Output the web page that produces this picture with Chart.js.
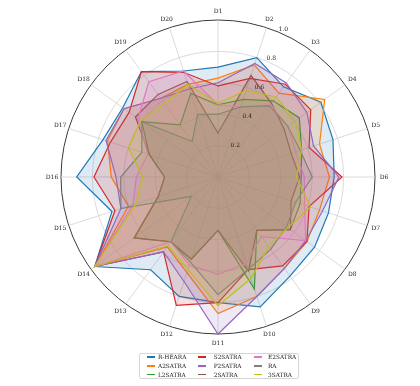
<!DOCTYPE html>
<html>
<head>
<meta charset="utf-8">
<script src="https://cdn.jsdelivr.net/npm/chart.js@4"></script>
<style>
  body { margin: 0; background: #fff; }
  #wrap { position: relative; width: 420px; height: 386px; }
  #legend {
    position: absolute; left: 139px; top: 353px; width: 158px; height: 24px;
    border: 1px solid #d6d6d6; border-radius: 2px; background: rgba(255,255,255,0.85);
    font-family: "DejaVu Serif", serif; font-size: 5.8px; color: #222;
  }
  .item { position: absolute; white-space: nowrap; }
  .swatch { position: absolute; height: 1.3px; width: 8px; }
</style>
</head>
<body>
<div id="wrap">
  <canvas id="radar" width="420" height="386"></canvas>
  <div id="legend"></div>
</div>
<script>
const axes = ['D1','D2','D3','D4','D5','D6','D7','D8','D9','D10',
              'D11','D12','D13','D14','D15','D16','D17','D18','D19','D20'];
const rTicks = [0.2, 0.4, 0.6, 0.8, 1.0];

const seriesNames = ['R-HEARA','A2SATRA','L2SATRA','S2SATRA','P2SATRA','2SATRA','E2SATRA','RA','3SATRA'];
const seriesColors = ['#1f77b4','#ff7f0e','#2ca02c','#d62728','#9467bd','#8c564b','#e377c2','#7f7f7f','#bcbd22'];

const rHeara  = [0.70,0.80,0.71,0.81,0.77,0.74,0.74,0.76,0.78,0.87,0.80,0.80,0.73,0.97,0.71,0.90,0.77,0.75,0.83,0.71];
const a2satra = [0.63,0.75,0.66,0.84,0.68,0.71,0.68,0.70,0.72,0.80,0.87,0.64,0.55,0.97,0.60,0.68,0.74,0.74,0.62,0.62];
const l2satra = [0.46,0.52,0.60,0.64,0.56,0.53,0.55,0.57,0.42,0.75,0.34,0.55,0.51,0.66,0.40,0.34,0.46,0.60,0.41,0.56];
const s2satra = [0.58,0.66,0.73,0.73,0.61,0.79,0.61,0.70,0.70,0.62,0.80,0.86,0.59,0.97,0.69,0.79,0.72,0.70,0.83,0.70];
const p2satra = [0.60,0.76,0.74,0.70,0.64,0.77,0.70,0.69,0.72,0.80,1.00,0.70,0.59,0.97,0.65,0.65,0.75,0.74,0.62,0.59];
const satra2  = [0.28,0.68,0.58,0.52,0.49,0.52,0.49,0.57,0.42,0.63,0.34,0.55,0.51,0.66,0.40,0.34,0.46,0.65,0.65,0.64];
const e2satra = [0.46,0.47,0.57,0.55,0.52,0.55,0.58,0.69,0.47,0.58,0.62,0.59,0.51,0.97,0.57,0.52,0.47,0.63,0.75,0.71];
const ra      = [0.40,0.47,0.56,0.55,0.55,0.60,0.52,0.54,0.57,0.62,0.75,0.57,0.51,0.21,0.65,0.62,0.51,0.60,0.28,0.42];
const satra3  = [0.47,0.58,0.63,0.61,0.56,0.50,0.62,0.55,0.55,0.68,0.82,0.62,0.54,0.97,0.55,0.48,0.60,0.61,0.58,0.62];

const seriesValues = [rHeara, a2satra, l2satra, s2satra, p2satra, satra2, e2satra, ra, satra3];

const FONT = '"DejaVu Serif", serif';

function hexToRgba(hex, a) {
    const n = parseInt(hex.slice(1), 16);
    return `rgba(${(n >> 16) & 255},${(n >> 8) & 255},${n & 255},${a})`;
}

// labels drawn the way matplotlib places them (centred outside, r ticks at 22.5deg)
const polarText = {
    id: 'polarText',
    afterDatasetsDraw(chart) {
        const scale = chart.scales.r;
        const ctx = chart.ctx;
        ctx.save();
        ctx.fillStyle = '#222';
        ctx.font = '6px ' + FONT;

        ctx.textAlign = 'left';
        ctx.textBaseline = 'bottom';
        const a = 22.5 * Math.PI / 180;
        rTicks.forEach(v => {
            const r = scale.getDistanceFromCenterForValue(v);
            ctx.fillText(v.toFixed(1), scale.xCenter + r * Math.sin(a) + 0.5, scale.yCenter - r * Math.cos(a) + 0.5);
        });

        ctx.textAlign = 'center';
        ctx.textBaseline = 'middle';
        const rl = scale.drawingArea + 9;
        axes.forEach((name, i) => {
            const t = i * 2 * Math.PI / axes.length;
            ctx.fillText(name, scale.xCenter + rl * Math.sin(t), scale.yCenter - rl * Math.cos(t));
        });
        ctx.restore();
    }
};

const datasets = seriesNames.map((name, i) => ({
    label: name,
    data: seriesValues[i],
    borderColor: seriesColors[i],
    backgroundColor: hexToRgba(seriesColors[i], 0.15),
    borderWidth: 1.2,
    pointRadius: 0,
    fill: true,
    order: seriesNames.length - i
}));

new Chart(document.getElementById('radar'), {
    type: 'radar',
    data: { labels: axes, datasets: datasets },
    options: {
        responsive: false,
        animation: false,
        devicePixelRatio: 1,
        layout: { padding: { left: 61, top: 20, right: 45, bottom: 52 } },
        plugins: { legend: { display: false }, tooltip: { enabled: false } },
        elements: { line: { tension: 0 } },
        scales: {
            r: {
                min: 0,
                max: 1,
                ticks: { display: false, stepSize: 0.2 },
                pointLabels: { display: false },
                grid: {
                    circular: true,
                    color: c => c.tick && c.tick.value >= 1 ? '#3a3a3a' : '#d2d2d2',
                    lineWidth: c => c.tick && c.tick.value >= 1 ? 1 : 0.8
                },
                angleLines: { color: '#d2d2d2', lineWidth: 0.8 }
            }
        }
    },
    plugins: [polarText]
});

// legend in three columns, filled column by column
const legend = document.getElementById('legend');
const colLine = [6.7, 57.7, 113.7];
const colText = [18, 73.7, 128];
const rowY = [3, 12, 20.7];
seriesNames.forEach((name, i) => {
    const col = Math.floor(i / 3), row = i % 3;
    const sw = document.createElement('div');
    sw.className = 'swatch';
    sw.style.left = colLine[col] + 'px';
    sw.style.top = (rowY[row] - 0.6) + 'px';
    sw.style.background = seriesColors[i];
    legend.appendChild(sw);
    const tx = document.createElement('div');
    tx.className = 'item';
    tx.style.left = colText[col] + 'px';
    tx.style.top = (rowY[row] - 4) + 'px';
    tx.style.lineHeight = '8px';
    tx.textContent = name;
    legend.appendChild(tx);
});
</script>
</body>
</html>
